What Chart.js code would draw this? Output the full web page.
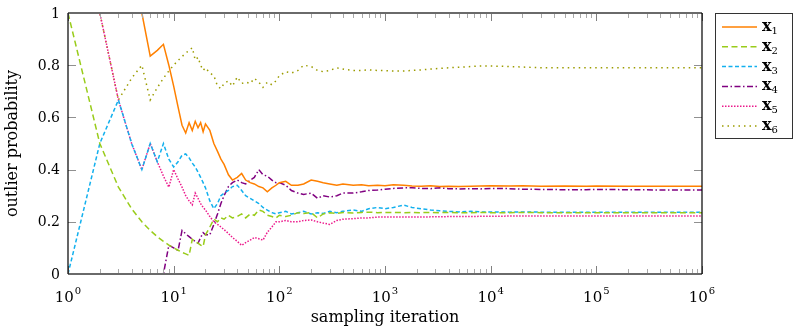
<!DOCTYPE html>
<html>
<head>
<meta charset="utf-8">
<script src="https://cdn.jsdelivr.net/npm/chart.js@4.4.1/dist/chart.umd.min.js"></script>
<style>
  html, body { margin: 0; padding: 0; background: #fff; }
  #wrap { width: 795px; height: 334px; }
</style>
</head>
<body>
<div id="wrap"><canvas id="chart" width="795" height="334"></canvas></div>
<script>
// sampling iterations (x)
const iterations = [1, 2, 3, 4, 5, 6, 7, 8, 9, 10, 11, 12, 13, 14, 15, 16, 17, 18, 19, 20,
  22, 24, 26, 28, 30, 33, 36, 40, 44, 48, 53, 58, 64, 70, 77, 85, 93, 100,
  115, 130, 150, 170, 200, 230, 260, 300, 350, 400, 500, 600, 700, 850, 1000,
  1200, 1500, 1800, 2200, 2700, 3300, 4000, 5000, 6500, 8000, 10000, 15000, 20000, 30000, 50000, 80000,
  100000, 200000, 400000, 700000, 1000000];

// outlier probability per point
const x1 = [1, 1, 1, 1, 1, 0.835, 0.857, 0.88, 0.80, 0.72, 0.64, 0.57, 0.54, 0.58, 0.55, 0.585, 0.56, 0.58, 0.545, 0.575,
  0.55, 0.50, 0.47, 0.44, 0.42, 0.38, 0.36, 0.37, 0.385, 0.36, 0.35, 0.345, 0.335, 0.33, 0.315, 0.33, 0.34, 0.35,
  0.355, 0.34, 0.34, 0.345, 0.36, 0.355, 0.35, 0.345, 0.34, 0.345, 0.34, 0.342, 0.338, 0.34, 0.338,
  0.342, 0.34, 0.337, 0.336, 0.338, 0.335, 0.336, 0.335, 0.336, 0.337, 0.338, 0.337, 0.338, 0.336, 0.337, 0.336,
  0.337, 0.336, 0.336, 0.336, 0.336];
const x2 = [1, 0.5, 0.333, 0.25, 0.2, 0.167, 0.143, 0.125, 0.111, 0.1, 0.091, 0.083, 0.077, 0.071, 0.133, 0.125, 0.118, 0.111, 0.105, 0.15,
  0.18, 0.21, 0.2, 0.215, 0.21, 0.225, 0.215, 0.22, 0.23, 0.215, 0.23, 0.225, 0.245, 0.24, 0.225, 0.22, 0.215, 0.225,
  0.22, 0.225, 0.235, 0.232, 0.235, 0.215, 0.23, 0.235, 0.232, 0.236, 0.234, 0.236, 0.237, 0.235, 0.236,
  0.236, 0.235, 0.236, 0.235, 0.236, 0.235, 0.236, 0.235, 0.235, 0.236, 0.235, 0.235, 0.236, 0.235, 0.235, 0.235,
  0.235, 0.235, 0.235, 0.235, 0.235];
const x3 = [0, 0.5, 0.667, 0.5, 0.4, 0.5, 0.43, 0.5, 0.44, 0.41, 0.43, 0.455, 0.46, 0.445, 0.425, 0.41, 0.39, 0.37, 0.35, 0.33,
  0.28, 0.25, 0.27, 0.3, 0.31, 0.32, 0.335, 0.34, 0.32, 0.3, 0.29, 0.28, 0.27, 0.255, 0.245, 0.235, 0.23, 0.235,
  0.24, 0.23, 0.235, 0.24, 0.23, 0.235, 0.232, 0.24, 0.235, 0.24, 0.245, 0.24, 0.25, 0.255, 0.25,
  0.255, 0.264, 0.255, 0.25, 0.245, 0.242, 0.24, 0.238, 0.24, 0.238, 0.238, 0.237, 0.238, 0.237, 0.237, 0.237,
  0.237, 0.237, 0.237, 0.237, 0.237];
const x4 = [0, 0, 0, 0, 0, 0, 0, 0, 0.11, 0.1, 0.09, 0.167, 0.154, 0.143, 0.133, 0.125, 0.118, 0.14, 0.158, 0.15,
  0.15, 0.19, 0.23, 0.27, 0.3, 0.335, 0.35, 0.36, 0.35, 0.345, 0.36, 0.37, 0.4, 0.38, 0.375, 0.36, 0.35, 0.35,
  0.34, 0.32, 0.31, 0.305, 0.31, 0.29, 0.3, 0.295, 0.3, 0.31, 0.31, 0.315, 0.32, 0.322, 0.325,
  0.328, 0.33, 0.33, 0.328, 0.327, 0.33, 0.327, 0.326, 0.327, 0.326, 0.328, 0.327, 0.325, 0.324, 0.323, 0.323,
  0.324, 0.323, 0.322, 0.322, 0.322];
const x5 = [1, 1, 0.667, 0.5, 0.4, 0.5, 0.43, 0.375, 0.333, 0.4, 0.364, 0.333, 0.3, 0.28, 0.265, 0.31, 0.29, 0.27, 0.255, 0.245,
  0.22, 0.2, 0.19, 0.18, 0.17, 0.155, 0.14, 0.125, 0.11, 0.12, 0.13, 0.14, 0.135, 0.13, 0.16, 0.18, 0.2, 0.2,
  0.205, 0.2, 0.2, 0.205, 0.207, 0.2, 0.195, 0.19, 0.205, 0.21, 0.212, 0.215, 0.215, 0.218, 0.218,
  0.218, 0.218, 0.218, 0.218, 0.219, 0.219, 0.22, 0.22, 0.22, 0.221, 0.221, 0.222, 0.222, 0.222, 0.222, 0.222,
  0.222, 0.222, 0.222, 0.222, 0.222];
const x6 = [1, 1, 0.667, 0.75, 0.8, 0.667, 0.714, 0.75, 0.778, 0.8, 0.818, 0.833, 0.846, 0.857, 0.867, 0.82, 0.83, 0.8, 0.78, 0.79,
  0.77, 0.76, 0.72, 0.71, 0.73, 0.74, 0.72, 0.755, 0.73, 0.735, 0.73, 0.75, 0.735, 0.715, 0.735, 0.725, 0.74, 0.76,
  0.775, 0.77, 0.78, 0.8, 0.795, 0.78, 0.775, 0.78, 0.79, 0.785, 0.78, 0.78, 0.782, 0.78, 0.779,
  0.778, 0.778, 0.78, 0.782, 0.785, 0.788, 0.79, 0.792, 0.795, 0.797, 0.797, 0.795, 0.793, 0.79, 0.79, 0.79,
  0.79, 0.79, 0.79, 0.79, 0.79];

const seriesLabels = ['1', '2', '3', '4', '5', '6'];
const xTickExps = [0, 1, 2, 3, 4, 5, 6];
const yTicks = [0, 0.2, 0.4, 0.6, 0.8, 1];
const yTickLabels = ['0', '0.2', '0.4', '0.6', '0.8', '1'];

const SERIF = '"DejaVu Serif", "Liberation Serif", serif';

const styles = [
  { color: '#ff8000', dash: [] },
  { color: '#99cc1a', dash: [6, 3.5] },
  { color: '#12b0ee', dash: [4, 2.5] },
  { color: '#800080', dash: [6, 2.5, 1.5, 2.5] },
  { color: '#ec1a8c', dash: [1.5, 1.5] },
  { color: '#9c9c00', dash: [1.5, 4] }
];

const allSeries = [x1, x2, x3, x4, x5, x6];
const datasets = allSeries.map((vals, i) => ({
  label: 'x' + seriesLabels[i],
  data: iterations.map((n, k) => ({ x: n, y: vals[k] })),
  borderColor: styles[i].color,
  borderDash: styles[i].dash,
  borderWidth: 1.5,
  borderCapStyle: 'butt',
  pointRadius: 0,
  tension: 0,
  fill: false
}));

// draws ticks (inward), frame, tick labels, axis titles
const axisPlugin = {
  id: 'axisPlugin',
  afterDatasetsDraw(chart) {
    const { ctx, chartArea: a, scales: { x, y } } = chart;
    ctx.save();

    // x ticks
    ctx.lineWidth = 1;
    xTickExps.forEach((e, i) => {
      const base = Math.pow(10, e);
      const px = Math.round(x.getPixelForValue(base)) + 0.5;
      ctx.strokeStyle = '#808080';
      ctx.beginPath();
      ctx.moveTo(px, a.bottom); ctx.lineTo(px, a.bottom - 8);
      ctx.moveTo(px, a.top); ctx.lineTo(px, a.top + 8);
      ctx.stroke();
      if (i < xTickExps.length - 1) {
        ctx.strokeStyle = '#a8a8a8';
        for (let m = 2; m <= 9; m++) {
          const mx = Math.round(x.getPixelForValue(base * m)) + 0.5;
          ctx.beginPath();
          ctx.moveTo(mx, a.bottom); ctx.lineTo(mx, a.bottom - 5);
          ctx.moveTo(mx, a.top); ctx.lineTo(mx, a.top + 5);
          ctx.stroke();
        }
      }
    });

    // y ticks
    ctx.strokeStyle = '#909090';
    yTicks.forEach(v => {
      const py = Math.round(y.getPixelForValue(v)) + 0.5;
      ctx.beginPath();
      ctx.moveTo(a.left, py); ctx.lineTo(a.left + 8, py);
      ctx.moveTo(a.right, py); ctx.lineTo(a.right - 8, py);
      ctx.stroke();
    });

    // frame
    ctx.strokeStyle = '#6a6a6a';
    ctx.lineWidth = 2;
    ctx.beginPath();
    ctx.moveTo(a.left, a.top); ctx.lineTo(a.right, a.top);
    ctx.moveTo(a.left, a.bottom); ctx.lineTo(a.right, a.bottom);
    ctx.stroke();
    ctx.strokeStyle = '#000';
    ctx.lineWidth = 1.2;
    ctx.beginPath();
    ctx.moveTo(a.left, a.top); ctx.lineTo(a.left, a.bottom);
    ctx.moveTo(a.right, a.top); ctx.lineTo(a.right, a.bottom);
    ctx.stroke();

    // y tick labels
    ctx.fillStyle = '#000';
    ctx.font = '14px ' + SERIF;
    ctx.textAlign = 'right';
    ctx.textBaseline = 'middle';
    yTicks.forEach((v, i) => {
      ctx.fillText(yTickLabels[i], a.left - 8, y.getPixelForValue(v) + 1);
    });

    // x tick labels: 10^e
    ctx.textBaseline = 'alphabetic';
    ctx.textAlign = 'left';
    xTickExps.forEach(e => {
      const px = x.getPixelForValue(Math.pow(10, e));
      ctx.font = '15px ' + SERIF;
      const wb = ctx.measureText('10').width;
      ctx.font = '10px ' + SERIF;
      const we = ctx.measureText(String(e)).width;
      const left = px - (wb + we + 1) / 2;
      ctx.font = '15px ' + SERIF;
      ctx.fillText('10', left, 302);
      ctx.font = '10px ' + SERIF;
      ctx.fillText(String(e), left + wb + 1, 294);
    });

    // axis titles
    ctx.font = '16px ' + SERIF;
    ctx.textAlign = 'center';
    ctx.textBaseline = 'middle';
    ctx.fillText('sampling iteration', (a.left + a.right) / 2, 318);
    ctx.save();
    ctx.translate(13, (a.top + a.bottom) / 2);
    ctx.rotate(-Math.PI / 2);
    ctx.fillText('outlier probability', 0, 0);
    ctx.restore();

    ctx.restore();
  }
};

// legend box on the right
const legendPlugin = {
  id: 'legendBox',
  afterDraw(chart) {
    const { ctx } = chart;
    const box = { left: 715, top: 13, right: 792, bottom: 138 };
    ctx.save();
    ctx.fillStyle = '#fff';
    ctx.fillRect(box.left, box.top, box.right - box.left, box.bottom - box.top);
    ctx.strokeStyle = '#333';
    ctx.lineWidth = 1;
    ctx.strokeRect(box.left + 0.5, box.top + 0.5, box.right - box.left, box.bottom - box.top);

    chart.data.datasets.forEach((ds, i) => {
      const cy = 27 + i * 19.8;
      ctx.strokeStyle = ds.borderColor;
      ctx.lineWidth = ds.borderWidth;
      ctx.setLineDash(ds.borderDash);
      ctx.beginPath();
      ctx.moveTo(722, cy); ctx.lineTo(757, cy);
      ctx.stroke();
      ctx.setLineDash([]);

      ctx.fillStyle = '#000';
      ctx.textAlign = 'left';
      ctx.textBaseline = 'alphabetic';
      ctx.font = 'bold 16px ' + SERIF;
      ctx.fillText('x', 762, cy + 4);
      const w = ctx.measureText('x').width;
      ctx.font = '10px ' + SERIF;
      ctx.fillText(seriesLabels[i], 762 + w, cy + 7);
    });
    ctx.restore();
  }
};

new Chart(document.getElementById('chart'), {
  type: 'line',
  data: { datasets },
  options: {
    responsive: false,
    animation: false,
    layout: { padding: { top: 13, right: 93, left: 0, bottom: 0 } },
    plugins: { legend: { display: false }, tooltip: { enabled: false } },
    scales: {
      x: {
        type: 'logarithmic',
        min: 1,
        max: 1000000,
        grid: { display: false },
        border: { display: false },
        ticks: { display: false },
        afterFit: (scale) => { scale.height = 60; }
      },
      y: {
        min: 0,
        max: 1,
        grid: { display: false },
        border: { display: false },
        ticks: { display: false },
        afterFit: (scale) => { scale.width = 68; }
      }
    }
  },
  plugins: [axisPlugin, legendPlugin]
});
</script>
</body>
</html>
